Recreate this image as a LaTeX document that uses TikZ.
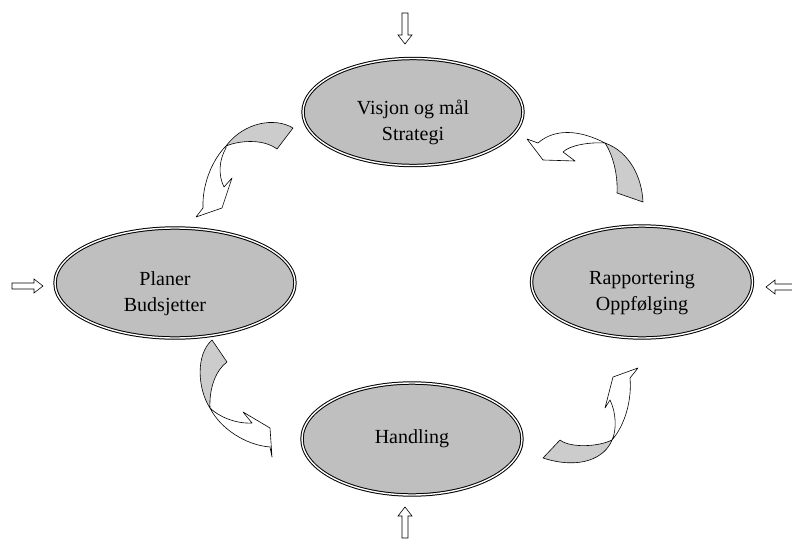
\documentclass[tikz,border=0pt]{standalone}
\usepackage{fontspec}
\setmainfont{Liberation Serif}
\usetikzlibrary{shapes.geometric}
\def\inarrow{++(-3,0) -- ++(0,22) -- ++(-4,0) -- ++(7,9) -- ++(7,-9) -- ++(-4,0) -- ++(0,-22) -- cycle}
\def\dback{\draw[back]}
\def\dfront{\draw[front]}
\def\tall{\rule{0pt}{36pt}}

\begin{document}
\begin{tikzpicture}[x=1pt,y=-1pt,
        goal/.style={ellipse,draw,line width=1pt,double=white,double distance=1.4pt,
            fill=gray!50,inner sep=0pt,align=center,font=\fontsize{20}{26}\selectfont},
        back/.style={fill=gray!40,line width=.6pt,line join=round},
        front/.style={fill=white,line width=.6pt,line join=round},
        entry/.style={fill=white,line width=.6pt}]
    \useasboundingbox (0,0) rectangle (792,538);

    \node[goal,minimum width=220pt,minimum height=107pt] (visjon) at (413,112) {\tall Visjon og mål\\Strategi};
    \node[goal,minimum width=240pt,minimum height=110pt] (planer) at (175,283) {\tall Planer\hspace*{20pt}\\Budsjetter\hspace*{20pt}};
    \node[goal,minimum width=221pt,minimum height=112pt] (rapport) at (642,282) {\tall Rapportering\\Oppfølging};
    \node[goal,minimum width=220pt,minimum height=112pt] (handling) at (412,439) {Handling};

    \draw[entry,shift={(405,13)}] (0,0) \inarrow;
    \draw[entry,shift={(405,538)},rotate=180] (0,0) \inarrow;
    \draw[entry,shift={(12,286)},rotate=90] (0,0) \inarrow;
    \draw[entry,shift={(797,287)},rotate=-90] (0,0) \inarrow;

    \dback (293,128) .. controls (275,117) and (244,122) .. (226,146) .. controls (238,141) and (262,138) .. (277,149) -- cycle;
    \dfront (226,146) .. controls (212,160) and (202,185) .. (203,208) -- (196,217) -- (222,208) -- (232,178) -- (224,187) .. controls (218,175) and (219,160) .. (226,148) -- cycle;

    \dback (605,143) .. controls (630,152) and (642,178) .. (643,202) -- (617,193) .. controls (618,175) and (613,155) .. (605,143) -- cycle;
    \dfront (605,143) .. controls (580,130) and (555,128) .. (538,143) -- (527,139) -- (543,160) -- (575,161) -- (563,152) .. controls (570,145) and (590,142) .. (605,143) -- cycle;

    \dback (212,340) -- (227,362) .. controls (216,370) and (209,388) .. (210,408) .. controls (198,390) and (195,355) .. (212,340) -- cycle;
    \dfront (210,408) .. controls (220,428) and (245,445) .. (270,447) -- (272,457) -- (270,428) -- (243,412) -- (252,423) .. controls (235,424) and (218,416) .. (210,408) -- cycle;

    \dback (543,458) -- (560,440) .. controls (570,448) and (598,447) .. (612,440) .. controls (605,458) and (580,470) .. (543,458) -- cycle;
    \dfront (612,440) .. controls (625,425) and (632,400) .. (630,378) -- (638,368) -- (613,377) -- (605,408) -- (610,400) .. controls (616,412) and (617,430) .. (612,440) -- cycle;
\end{tikzpicture}
\end{document}
